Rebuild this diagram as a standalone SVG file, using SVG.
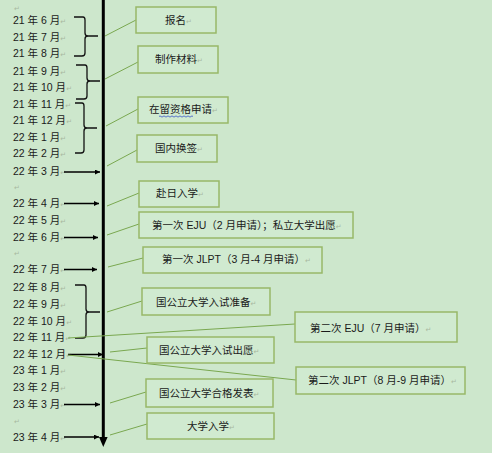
<svg xmlns="http://www.w3.org/2000/svg" width="492" height="453" viewBox="0 0 492 453">
<defs>
<marker id="ah" viewBox="0 0 10 10" refX="10" refY="5" markerWidth="5" markerHeight="5" orient="auto" markerUnits="userSpaceOnUse"><path d="M0,0 L10,5 L0,10 z" fill="#000"/></marker>
<style>
.m{font-family:"Liberation Sans","Noto Sans CJK SC",sans-serif;font-size:10.5px;fill:#1a1a1a}
.t{font-family:"Liberation Sans","Noto Sans CJK SC",sans-serif;font-size:10.5px;fill:#1a1a1a}
.p{font-family:"DejaVu Sans",sans-serif;font-size:7px;fill:#a8b8a0}
.box{fill:#d0ead0;stroke:#98b868;stroke-width:1.5}
.c{stroke:#7aa850;stroke-width:1;fill:none}
.br{stroke:#111;stroke-width:1.3;fill:none}
.ar{stroke:#000;stroke-width:1.3;fill:none;marker-end:url(#ah)}
</style>
</defs>
<rect width="492" height="453" fill="#cde7cc"/>

<g id="months">
<text class="p" x="14" y="11">↵</text>
<text class="m" x="13" y="24">21 年 6 月<tspan class="p">↵</tspan></text>
<text class="m" x="13" y="41">21 年 7 月<tspan class="p">↵</tspan></text>
<text class="m" x="13" y="57">21 年 8 月<tspan class="p">↵</tspan></text>
<text class="m" x="13" y="74.5">21 年 9 月<tspan class="p">↵</tspan></text>
<text class="m" x="13" y="91">21 年 10 月<tspan class="p">↵</tspan></text>
<text class="m" x="13" y="108">21 年 11 月<tspan class="p">↵</tspan></text>
<text class="m" x="13" y="124">21 年 12 月<tspan class="p">↵</tspan></text>
<text class="m" x="13" y="141">22 年 1 月<tspan class="p">↵</tspan></text>
<text class="m" x="13" y="157">22 年 2 月<tspan class="p">↵</tspan></text>
<text class="m" x="13" y="175">22 年 3 月<tspan class="p">↵</tspan></text>
<text class="p" x="14" y="190">↵</text>
<text class="m" x="13" y="207">22 年 4 月<tspan class="p">↵</tspan></text>
<text class="m" x="13" y="224">22 年 5 月<tspan class="p">↵</tspan></text>
<text class="m" x="13" y="241">22 年 6 月<tspan class="p">↵</tspan></text>
<text class="p" x="14" y="256">↵</text>
<text class="m" x="13" y="273">22 年 7 月<tspan class="p">↵</tspan></text>
<text class="m" x="13" y="291">22 年 8 月<tspan class="p">↵</tspan></text>
<text class="m" x="13" y="308">22 年 9 月<tspan class="p">↵</tspan></text>
<text class="m" x="13" y="325">22 年 10 月<tspan class="p">↵</tspan></text>
<text class="m" x="13" y="341">22 年 11 月<tspan class="p">↵</tspan></text>
<text class="m" x="13" y="358">22 年 12 月<tspan class="p">↵</tspan></text>
<text class="m" x="13" y="374">23 年 1 月<tspan class="p">↵</tspan></text>
<text class="m" x="13" y="391">23 年 2 月<tspan class="p">↵</tspan></text>
<text class="m" x="13" y="408">23 年 3 月<tspan class="p">↵</tspan></text>
<text class="p" x="14" y="424">↵</text>
<text class="m" x="13" y="441">23 年 4 月<tspan class="p">↵</tspan></text>
</g>

<g id="axis">
<line x1="103.3" y1="0" x2="103.3" y2="438" stroke="#000" stroke-width="3"/>
<path d="M99,437 L107.6,437 L103.3,447 z" fill="#000"/>
</g>

<g id="braces">
<path class="br" d="M74,17 L83,17 Q85,17 85,20 L85,33 Q85,36 88,36 L98,36 M88,36 Q85,36 85,39 L85,53 Q85,56 82,56 L74,56"/>
<path class="br" d="M76,65 L85,65 Q87,65 87,68 L87,78 Q87,81 90,81 L100,81 M90,81 Q87,81 87,84 L87,96 Q87,99 84,99 L76,99"/>
<path class="br" d="M75,103 L82,103 Q84,103 84,106 L84,125 Q84,128 87,128 L97,128 M87,128 Q84,128 84,131 L84,150 Q84,153 81,153 L75,153"/>
<path class="br" d="M75,285 L84,285 Q86,285 86,288 L86,309 Q86,312 89,312 L100,312 M89,312 Q86,312 86,315 L86,335 Q86,338 83,338 L75,338"/>
</g>

<g id="connectors">
<line class="ar" x1="64" y1="172" x2="100" y2="172"/>
<line class="ar" x1="64" y1="203.5" x2="99" y2="203.5"/>
<line class="ar" x1="64" y1="237.5" x2="98" y2="237.5"/>
<line class="ar" x1="64" y1="269.5" x2="97" y2="269.5"/>
<line class="ar" x1="68" y1="354.5" x2="103" y2="354.5"/>
<line class="ar" x1="64" y1="404.5" x2="100" y2="404.5"/>
<line class="ar" x1="64" y1="437" x2="99" y2="437"/>
<line class="c" x1="105" y1="36" x2="136" y2="20"/>
<line class="c" x1="105" y1="79" x2="138" y2="62"/>
<line class="c" x1="106" y1="126" x2="138" y2="109"/>
<line class="c" x1="107" y1="166" x2="137" y2="150"/>
<line class="c" x1="107" y1="206" x2="139" y2="193"/>
<line class="c" x1="107" y1="235" x2="139" y2="224"/>
<line class="c" x1="108" y1="267" x2="143" y2="258"/>
<line class="c" x1="107" y1="312" x2="142" y2="301"/>
<line class="c" x1="68" y1="338" x2="295" y2="324" stroke-width="1.5"/>
<line class="c" x1="110" y1="352" x2="147" y2="348"/>
<line class="c" x1="68" y1="355" x2="296" y2="380"/>
<line class="c" x1="110" y1="403" x2="146" y2="392"/>
<line class="c" x1="110" y1="435" x2="147" y2="424"/>
</g>

<g id="n1"><rect class="box" x="136" y="7" width="80" height="26"/><text class="t" x="165" y="24">报名<tspan class="p">↵</tspan></text></g>
<g id="n2"><rect class="box" x="138" y="46" width="80" height="27"/><text class="t" x="155" y="63">制作材料<tspan class="p">↵</tspan></text></g>
<g id="n3"><rect class="box" x="138" y="97" width="90" height="26"/><text class="t" x="149" y="113">在留资格申请<tspan class="p">↵</tspan></text><path d="M159,116.5 q1,-1.2 2,0 t2,0 t2,0 t2,0 t2,0 t2,0 t2,0 t2,0 t2,0 t2,0 t2,0 t2,0 t2,0 t2,0 t2,0 t2,0 t2,0" stroke="#3a55c8" stroke-width="0.8" fill="none"/></g>
<g id="n4"><rect class="box" x="137" y="135" width="80" height="27"/><text class="t" x="155" y="152">国内换签<tspan class="p">↵</tspan></text></g>
<g id="n5"><rect class="box" x="139" y="181" width="80" height="26"/><text class="t" x="156" y="197">赴日入学<tspan class="p">↵</tspan></text></g>
<g id="n6"><rect class="box" x="139" y="212" width="214" height="26"/><text class="t" x="152" y="229">第一次 EJU（2 月申请）；私立大学出愿<tspan class="p">↵</tspan></text></g>
<g id="n7"><rect class="box" x="143" y="247" width="179" height="26"/><text class="t" x="162" y="263">第一次 JLPT（3 月-4 月申请）<tspan class="p">↵</tspan></text></g>
<g id="n8"><rect class="box" x="142" y="288" width="128" height="27"/><text class="t" x="156" y="306">国公立大学入试准备<tspan class="p">↵</tspan></text></g>
<g id="n9"><rect class="box" x="295" y="312" width="162" height="30"/><text class="t" x="310" y="332">第二次 EJU（7 月申请）<tspan class="p">↵</tspan></text></g>
<g id="n10"><rect class="box" x="147" y="337" width="127" height="26"/><text class="t" x="159" y="354">国公立大学入试出愿<tspan class="p">↵</tspan></text></g>
<g id="n11"><rect class="box" x="296" y="367" width="169" height="27"/><text class="t" x="308" y="384">第二次 JLPT（8 月-9 月申请）<tspan class="p">↵</tspan></text></g>
<g id="n12"><rect class="box" x="146" y="379" width="127" height="28"/><text class="t" x="159" y="397">国公立大学合格发表<tspan class="p">↵</tspan></text></g>
<g id="n13"><rect class="box" x="147" y="413" width="127" height="26"/><text class="t" x="187" y="430">大学入学<tspan class="p">↵</tspan></text></g>
</svg>
